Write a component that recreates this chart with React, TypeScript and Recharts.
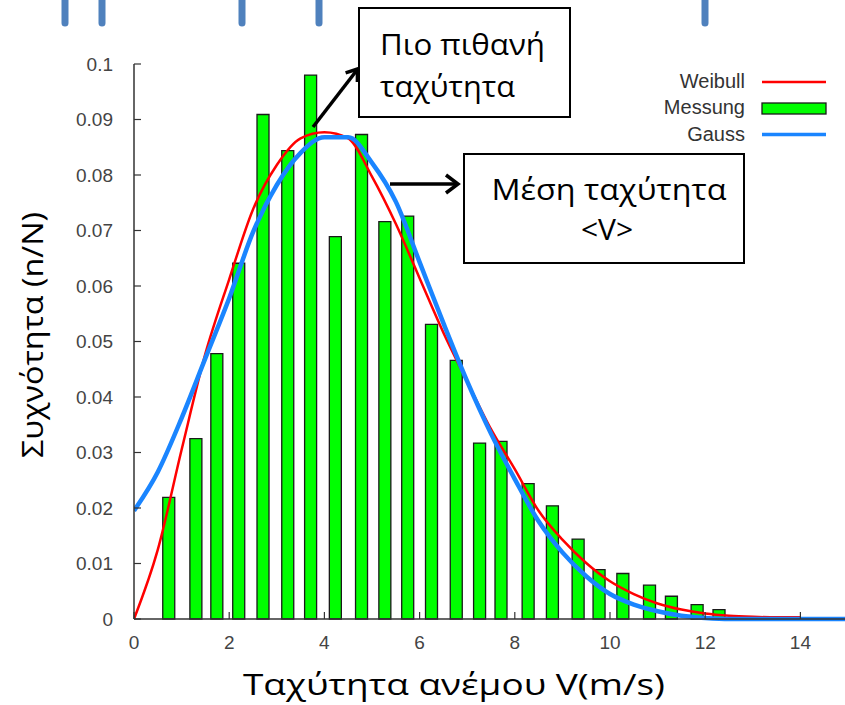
import { ComposedChart, Bar, Line, XAxis, YAxis } from 'recharts';

// measured histogram (Messung): bin centre speed (m/s) and relative frequency n/N
const barSpeeds = [0.74, 1.31, 1.75, 2.21, 2.72, 3.24, 3.72, 4.24, 4.79, 5.28, 5.76, 6.26, 6.78, 7.27, 7.72, 8.29, 8.8, 9.34, 9.78, 10.28, 10.84, 11.3, 11.84, 12.3];
const barFreqs = [0.0219, 0.0325, 0.0478, 0.0641, 0.0909, 0.0844, 0.098, 0.0689, 0.0873, 0.0716, 0.0726, 0.0531, 0.0466, 0.0317, 0.032, 0.0244, 0.0204, 0.0144, 0.0089, 0.0082, 0.0061, 0.0041, 0.0026, 0.0017];

// Weibull fit
const weibullSpeeds = [0, 0.5, 1, 1.5, 2, 2.5, 3, 3.5, 4, 4.5, 5, 5.5, 6, 6.5, 7, 7.5, 8, 8.5, 9, 9.5, 10, 10.5, 11, 11.5, 12, 12.5, 13, 13.5, 14];
const weibullFreqs = [0, 0.0125, 0.0305, 0.0478, 0.0612, 0.0738, 0.0818, 0.0866, 0.0877, 0.0866, 0.0797, 0.0712, 0.0614, 0.0516, 0.0428, 0.0342, 0.027, 0.0195, 0.0143, 0.0101, 0.0068, 0.0045, 0.0028, 0.0017, 0.001, 0.0006, 0.0004, 0.0003, 0.0003];

// Gauss fit
const gaussSpeeds = [0, 0.5, 1, 1.5, 2, 2.5, 3, 3.5, 4, 4.5, 5, 5.5, 6, 6.5, 7, 7.5, 8, 8.5, 9, 9.5, 10, 10.5, 11, 11.5, 12, 12.5, 13, 13.5, 14, 14.5, 15];
const gaussFreqs = [0.0195, 0.0265, 0.0362, 0.047, 0.0578, 0.0697, 0.0782, 0.084, 0.0868, 0.0868, 0.0822, 0.0752, 0.0643, 0.0533, 0.0428, 0.0334, 0.0252, 0.0176, 0.012, 0.0077, 0.0045, 0.0026, 0.0014, 0.0006, 0.0002, 0, 0, 0, 0, 0, 0];

const xTicks = [0, 2, 4, 6, 8, 10, 12, 14];
const yTicks = [0, 0.01, 0.02, 0.03, 0.04, 0.05, 0.06, 0.07, 0.08, 0.09, 0.1];

const barData = barSpeeds.map((x, i) => ({ x, y: barFreqs[i] }));
const weibullData = weibullSpeeds.map((x, i) => ({ x, y: weibullFreqs[i] }));
const gaussData = gaussSpeeds.map((x, i) => ({ x, y: gaussFreqs[i] }));

const AXIS = '#333';
const tickFont = { fontSize: 19, fill: '#444', fontFamily: 'Liberation Sans, Arial, sans-serif' };
const titleFont = 'Open Sans, Noto Sans, sans-serif';

export default function App() {
  return (
    <div style={{ position: 'fixed', left: 0, top: 0, width: 845, height: 705, overflow: 'hidden', background: '#fff' }}>
      <ComposedChart width={850} height={705} data={barData} margin={{ top: 64, right: 2, bottom: 0, left: 0 }}>
        <XAxis
          xAxisId="main"
          dataKey="x"
          type="number"
          domain={[0, 15]}
          ticks={xTicks}
          interval={0}
          allowDataOverflow
          height={86}
          tickSize={-7}
          tickMargin={24}
          tick={tickFont}
          axisLine={{ stroke: AXIS, strokeWidth: 1.5 }}
          tickLine={{ stroke: AXIS, strokeWidth: 1.2 }}
        />
        <XAxis
          xAxisId="top"
          orientation="top"
          dataKey="x"
          type="number"
          domain={[0, 15]}
          ticks={xTicks}
          interval={0}
          allowDataOverflow
          height={0}
          tickSize={-7}
          tick={{ fontSize: 0 }}
          tickFormatter={() => ''}
          axisLine={{ stroke: AXIS, strokeWidth: 1.5 }}
          tickLine={{ stroke: AXIS, strokeWidth: 1.2 }}
        />
        <YAxis
          type="number"
          domain={[0, 0.1]}
          ticks={yTicks}
          interval={0}
          width={134}
          tickSize={-7}
          tickMargin={28}
          tickFormatter={(v) => String(v)}
          tick={tickFont}
          axisLine={{ stroke: AXIS, strokeWidth: 1.5 }}
          tickLine={{ stroke: AXIS, strokeWidth: 1.2 }}
        />
        <Bar xAxisId="top" dataKey="y" barSize={12} fill="#00ff00" stroke="#1a1a1a" strokeWidth={1.3} isAnimationActive={false} />
        <Line xAxisId="main" data={weibullData} dataKey="y" type="monotone" stroke="#ff0000" strokeWidth={2.5} dot={false} isAnimationActive={false} />
        <Line xAxisId="main" data={gaussData} dataKey="y" type="monotone" stroke="#1a85ff" strokeWidth={4.5} dot={false} isAnimationActive={false} />
      </ComposedChart>

      <svg width={845} height={705} style={{ position: 'absolute', left: 0, top: 0, pointerEvents: 'none' }}>
        {/* slide fragments at the very top */}
        {[65, 102, 242, 319, 705].map((x) => (
          <line key={x} x1={x} y1={-6} x2={x} y2={23} stroke="#4f81bd" strokeWidth={7} strokeLinecap="round" />
        ))}

        {/* legend */}
        <g fontFamily="Liberation Sans, Arial, sans-serif" fontSize={20} fill="#333" textAnchor="end">
          <text x={745} y={88}>Weibull</text>
          <text x={745} y={114}>Messung</text>
          <text x={745} y={141}>Gauss</text>
        </g>
        <line x1={762} y1={82} x2={826} y2={82} stroke="#ff0000" strokeWidth={2.5} />
        <rect x={762} y={103} width={64} height={11} fill="#00ff00" stroke="#1a1a1a" strokeWidth={1.3} />
        <line x1={762} y1={134.5} x2={826} y2={134.5} stroke="#1a85ff" strokeWidth={3.5} />

        {/* axis titles */}
        <text x={454} y={695} textAnchor="middle" fontFamily={titleFont} fontSize={30} fill="#000" textLength={422} lengthAdjust="spacingAndGlyphs">
          Ταχύτητα ανέμου V(m/s)
        </text>
        <text x={43} y={335} transform="rotate(-90, 43, 335)" textAnchor="middle" fontFamily={titleFont} fontSize={29} fill="#000" textLength={246} lengthAdjust="spacingAndGlyphs">
          Συχνότητα (n/N)
        </text>

        {/* annotation: most probable speed */}
        <rect x={359} y={8} width={211} height={109} fill="#fff" stroke="#000" strokeWidth={2} />
        <text x={380} y={55} fontFamily={titleFont} fontSize={30} fill="#000" textLength={165} lengthAdjust="spacingAndGlyphs">Πιο πιθανή</text>
        <text x={380} y={97} fontFamily={titleFont} fontSize={30} fill="#000" textLength={135} lengthAdjust="spacingAndGlyphs">ταχύτητα</text>
        <line x1={313} y1={127} x2={357} y2={70} stroke="#000" strokeWidth={3.5} />
        <polyline points="345.6,72.8 357.5,69 357.4,82" fill="none" stroke="#000" strokeWidth={3.5} strokeLinejoin="miter" />

        {/* annotation: mean speed */}
        <rect x={464} y={154} width={280} height={109} fill="#fff" stroke="#000" strokeWidth={2} />
        <text x={609} y={200} textAnchor="middle" fontFamily={titleFont} fontSize={30} fill="#000" textLength={235} lengthAdjust="spacingAndGlyphs">Μέση ταχύτητα</text>
        <text x={607} y={240} textAnchor="middle" fontFamily={titleFont} fontSize={30} fill="#000">&lt;V&gt;</text>
        <line x1={390} y1={184} x2={456} y2={184} stroke="#000" strokeWidth={3.5} />
        <polyline points="446,175 458,184 446,193" fill="none" stroke="#000" strokeWidth={3.5} />
      </svg>
    </div>
  );
}
